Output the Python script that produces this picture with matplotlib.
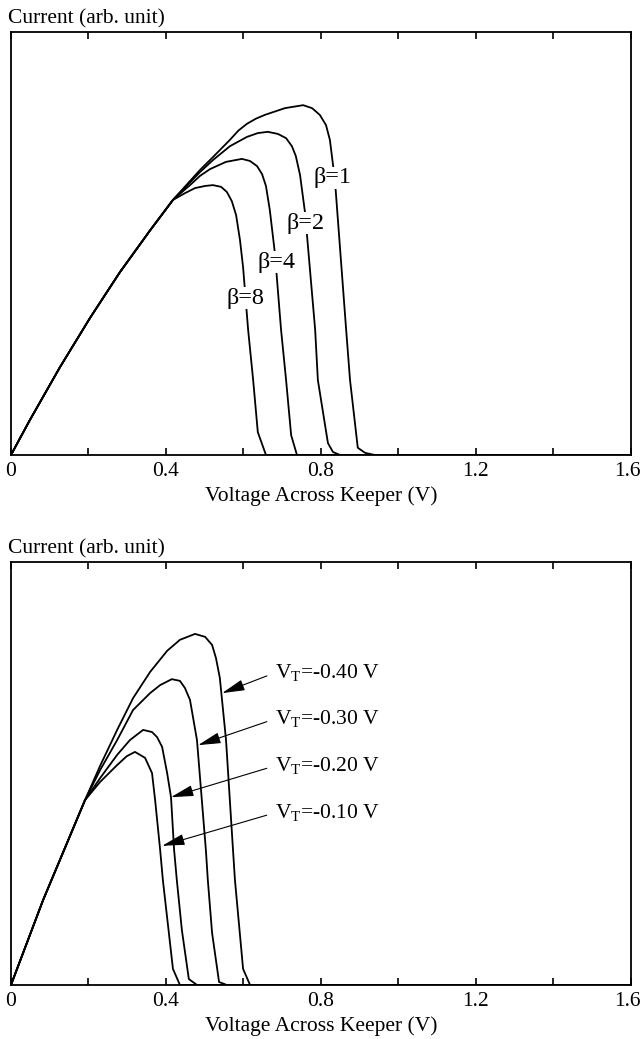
import matplotlib
matplotlib.use("Agg")
import matplotlib.pyplot as plt
from matplotlib.transforms import ScaledTranslation

plt.rcParams['font.family'] = ['Liberation Serif', 'DejaVu Serif']
plt.rcParams['mathtext.fontset'] = 'custom'
plt.rcParams['mathtext.rm'] = 'Liberation Serif'

# ---- top panel: beta sweep (x in V, y in arb. units 0..1) ----
rise_x = [0.0, 0.049, 0.126, 0.204, 0.281, 0.359, 0.418]
rise_y = [0.0, 0.083, 0.207, 0.324, 0.432, 0.531, 0.603]

b8_x = [0.449, 0.475, 0.501, 0.521, 0.542, 0.557, 0.570, 0.581, 0.591, 0.599, 0.612, 0.625, 0.637, 0.658, 1.6]
b8_y = [0.619, 0.631, 0.636, 0.638, 0.634, 0.622, 0.600, 0.567, 0.508, 0.444, 0.296, 0.177, 0.054, 0.0, 0.0]

b4_x = [0.462, 0.488, 0.514, 0.555, 0.596, 0.617, 0.635, 0.648, 0.658, 0.668, 0.681, 0.697, 0.710, 0.723, 0.738, 1.6]
b4_y = [0.638, 0.660, 0.676, 0.693, 0.700, 0.695, 0.683, 0.664, 0.636, 0.579, 0.478, 0.296, 0.177, 0.047, 0.0, 0.0]

b2_x = [0.488, 0.521, 0.565, 0.609, 0.637, 0.663, 0.689, 0.710, 0.725, 0.735, 0.746, 0.759, 0.785, 0.792, 0.818, 0.831, 0.849, 1.6]
b2_y = [0.669, 0.697, 0.730, 0.752, 0.761, 0.764, 0.759, 0.749, 0.730, 0.707, 0.662, 0.572, 0.296, 0.177, 0.028, 0.007, 0.0, 0.0]

b1_x = [0.488, 0.521, 0.565, 0.587, 0.609, 0.632, 0.655, 0.707, 0.754, 0.777, 0.797, 0.813, 0.823, 0.836, 0.865, 0.875, 0.895, 0.914, 0.939, 1.6]
b1_y = [0.674, 0.704, 0.745, 0.767, 0.783, 0.795, 0.804, 0.820, 0.827, 0.820, 0.804, 0.780, 0.745, 0.650, 0.296, 0.177, 0.017, 0.005, 0.0, 0.0]

beta_labels = ['β=1', 'β=2', 'β=4', 'β=8']
beta_lab_x = [0.831, 0.761, 0.684, 0.606]
beta_lab_y = [0.655, 0.548, 0.456, 0.371]

# ---- bottom panel: threshold voltage sweep ----
rise2_x = [0.0, 0.083, 0.191]
rise2_y = [0.0, 0.201, 0.437]

v40_x = [0.230, 0.274, 0.315, 0.359, 0.403, 0.436, 0.475, 0.501, 0.519, 0.529, 0.539, 0.555, 0.573, 0.578, 0.599, 0.617, 1.6]
v40_y = [0.518, 0.603, 0.678, 0.740, 0.790, 0.816, 0.830, 0.823, 0.804, 0.773, 0.726, 0.579, 0.319, 0.248, 0.038, 0.0, 0.0]

v30_x = [0.230, 0.274, 0.315, 0.359, 0.385, 0.415, 0.436, 0.449, 0.462, 0.480, 0.503, 0.508, 0.519, 0.537, 0.557, 1.6]
v30_y = [0.508, 0.579, 0.650, 0.690, 0.709, 0.723, 0.719, 0.702, 0.674, 0.579, 0.319, 0.248, 0.123, 0.007, 0.0, 0.0]

v20_x = [0.230, 0.274, 0.307, 0.341, 0.364, 0.377, 0.390, 0.403, 0.413, 0.421, 0.428, 0.441, 0.459, 0.480, 1.6]
v20_y = [0.489, 0.544, 0.579, 0.603, 0.598, 0.586, 0.563, 0.501, 0.444, 0.319, 0.248, 0.130, 0.014, 0.0, 0.0]

v10_x = [0.230, 0.274, 0.299, 0.320, 0.346, 0.364, 0.372, 0.385, 0.392, 0.418, 0.436, 1.6]
v10_y = [0.480, 0.520, 0.541, 0.551, 0.537, 0.501, 0.437, 0.319, 0.248, 0.038, 0.0, 0.0]

vt_labels = ['V$_\\mathrm{T}$=-0.40 V', 'V$_\\mathrm{T}$=-0.30 V',
             'V$_\\mathrm{T}$=-0.20 V', 'V$_\\mathrm{T}$=-0.10 V']
vt_tip_x = [0.545, 0.483, 0.413, 0.390]
vt_tip_y = [0.690, 0.567, 0.444, 0.329]
vt_text_x = 0.681
vt_text_y = [0.738, 0.629, 0.518, 0.407]

xticks = [0.0, 0.2, 0.4, 0.6, 0.8, 1.0, 1.2, 1.4, 1.6]
xticklabels = ['0', '', '0.4', '', '0.8', '', '1.2', '', '1.6']

FS = 15.5
LW = 1.3

fig = plt.figure(figsize=(6.42, 10.39), dpi=100)
ax1 = fig.add_axes([0.0171, 0.5621, 0.9657, 0.4071])
ax2 = fig.add_axes([0.0171, 0.0520, 0.9657, 0.4071])


def setup(ax):
    ax.set_xlim(0, 1.6)
    ax.set_ylim(0, 1)
    ax.set_yticks([])
    ax.set_xticks(xticks)
    ax.set_xticklabels(xticklabels, fontsize=FS)
    ax.tick_params(axis='x', direction='in', top=True, length=5, width=1.2, pad=5)
    # keep the last label inside the figure, as in the original
    last = ax.get_xticklabels()[-1]
    last.set_horizontalalignment('right')
    last.set_transform(last.get_transform() + ScaledTranslation(10 / 100, 0, fig.dpi_scale_trans))
    for s in ax.spines.values():
        s.set_linewidth(1.3)
    ax.set_xlabel('Voltage Across Keeper (V)', fontsize=FS, labelpad=4)
    ax.text(-0.005, 1.008, 'Current (arb. unit)', transform=ax.transAxes,
            ha='left', va='bottom', fontsize=FS)


setup(ax1)
for cx, cy in [(b1_x, b1_y), (b2_x, b2_y), (b4_x, b4_y), (b8_x, b8_y)]:
    ax1.plot(rise_x + cx, rise_y + cy, color='black', lw=LW, solid_joinstyle='round')
for lab, lx, ly in zip(beta_labels, beta_lab_x, beta_lab_y):
    ax1.text(lx, ly, lab, fontsize=17.5, ha='center', va='center',
             bbox=dict(facecolor='white', edgecolor='none', pad=0.2))

setup(ax2)
for cx, cy in [(v40_x, v40_y), (v30_x, v30_y), (v20_x, v20_y), (v10_x, v10_y)]:
    ax2.plot(rise2_x + cx, rise2_y + cy, color='black', lw=LW, solid_joinstyle='round')
for lab, tx, ty, ly in zip(vt_labels, vt_tip_x, vt_tip_y, vt_text_y):
    ax2.annotate(lab, xy=(tx, ty), xytext=(vt_text_x, ly), fontsize=FS,
                 ha='left', va='center',
                 arrowprops=dict(arrowstyle='-|>,head_length=0.9,head_width=0.22',
                                 color='black', lw=0.8, shrinkA=4, shrinkB=0,
                                 relpos=(0, 0.5)))

fig.savefig('out.png', dpi=100)
